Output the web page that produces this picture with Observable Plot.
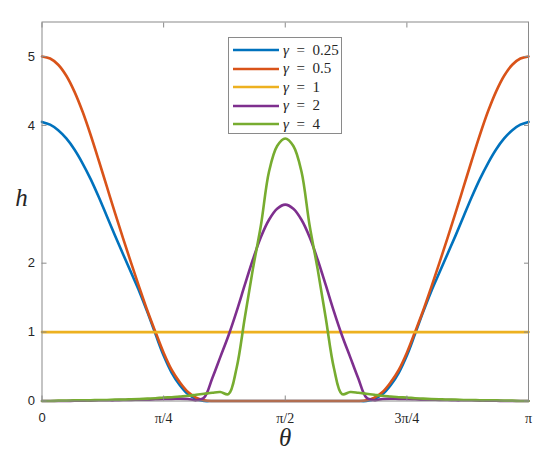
<!DOCTYPE html>
<html>
<head>
<meta charset="utf-8">
<script src="https://cdn.jsdelivr.net/npm/d3@7"></script>
<script src="https://cdn.jsdelivr.net/npm/@observablehq/plot@0.6"></script>
<style>
  html, body { margin: 0; padding: 0; background: #fff; }
  #wrap { position: relative; width: 550px; height: 460px; }
  #legend {
    position: absolute; left: 228px; top: 37px; width: 112px; height: 95px;
    border: 1px solid #8a8a8a; background: #fff; box-sizing: content-box;
    font-family: "Liberation Serif", "DejaVu Serif", serif; font-size: 15px; color: #262626;
  }
  #legend .row { position: absolute; left: 0; height: 18px; display: flex; align-items: center; }
  #legend svg { margin-left: 4px; margin-right: 4px; }
</style>
</head>
<body>
<div id="wrap"></div>
<script>
// theta positions: index k means theta = k * pi / 60
const thetaIndex = [0,1,2,3,4,5,6,7,8,9,10,11,12,13,14,15,16,17,18,19,20,21,22,23,24,25,26,27,28,29,30,
  31,32,33,34,35,36,37,38,39,40,41,42,43,44,45,46,47,48,49,50,51,52,53,54,55,56,57,58,59,60];

const seriesNames = ["γ = 0.25", "γ = 0.5", "γ = 1", "γ = 2", "γ = 4"];
const seriesColors = ["#0072BD", "#D95319", "#EDB120", "#7E2F8E", "#77AC30"];

const hGamma025 = [4.05,4.01,3.93,3.81,3.65,3.45,3.22,2.96,2.68,2.40,2.13,1.86,1.59,1.29,0.97,0.66,0.41,0.23,0.10,0.03,0.00,
  0,0,0,0,0,0,0,0,0,0,0,0,0,0,0,0,0,0,0,
  0.00,0.03,0.10,0.23,0.41,0.66,0.97,1.29,1.59,1.86,2.13,2.40,2.68,2.96,3.22,3.45,3.65,3.81,3.93,4.01,4.05];
const hGamma05 = [5.00,4.97,4.88,4.72,4.49,4.20,3.86,3.49,3.11,2.73,2.36,2.00,1.65,1.31,1.00,0.70,0.45,0.27,0.13,0.05,0.01,
  0,0,0,0,0,0,0,0,0,0,0,0,0,0,0,0,0,0,0,
  0.01,0.05,0.13,0.27,0.45,0.70,1.00,1.31,1.65,2.00,2.36,2.73,3.11,3.49,3.86,4.20,4.49,4.72,4.88,4.97,5.00];
const hGamma1 = [1,1,1,1,1,1,1,1,1,1,1,1,1,1,1,1,1,1,1,1,1,1,1,1,1,1,1,1,1,1,1,
  1,1,1,1,1,1,1,1,1,1,1,1,1,1,1,1,1,1,1,1,1,1,1,1,1,1,1,1,1,1];
const hGamma2 = [0,0,0,0,0.005,0.005,0.005,0.01,0.01,0.01,0.015,0.015,0.02,0.02,0.025,0.03,0.03,0.035,0.03,0.01,0.05,
  0.33,0.64,0.95,1.30,1.68,2.05,2.38,2.63,2.79,2.85,2.79,2.63,2.38,2.05,1.68,1.30,0.95,0.64,0.33,
  0.05,0.01,0.03,0.035,0.03,0.03,0.025,0.02,0.02,0.015,0.015,0.01,0.01,0.01,0.005,0.005,0.005,0,0,0,0];
const hGamma4 = [0,0,0.005,0.005,0.01,0.01,0.01,0.015,0.015,0.02,0.02,0.025,0.03,0.035,0.04,0.05,0.055,0.065,0.075,0.09,0.105,
  0.12,0.13,0.10,0.48,1.20,1.91,2.55,3.33,3.70,3.81,3.70,3.33,2.55,1.91,1.20,0.48,0.10,0.13,0.12,
  0.105,0.09,0.075,0.065,0.055,0.05,0.04,0.035,0.03,0.025,0.02,0.02,0.015,0.015,0.01,0.01,0.01,0.005,0.005,0,0];

const yTicks = [0, 1, 2, 4, 5];
const xTickValues = [0, Math.PI / 4, Math.PI / 2, 3 * Math.PI / 4, Math.PI];
const xTickLabels = ["0", "π/4", "π/2", "3π/4", "π"];

const allSeries = [hGamma025, hGamma05, hGamma1, hGamma2, hGamma4];
const rows = [];
allSeries.forEach((vals, s) => {
  thetaIndex.forEach((k, i) => rows.push({theta: k * Math.PI / 60, h: vals[i], series: seriesNames[s]}));
});

const labelFmt = d => xTickLabels[xTickValues.findIndex(v => Math.abs(v - d) < 1e-9)];
const axisGray = "#8a8a8a";
const serif = "Liberation Serif, DejaVu Serif, serif";

const chart = Plot.plot({
  width: 550,
  height: 460,
  marginLeft: 41.5,
  marginRight: 22,
  marginTop: 21.5,
  marginBottom: 59.5,
  x: {domain: [0, Math.PI]},
  y: {domain: [0, 5.5]},
  color: {domain: seriesNames, range: seriesColors},
  style: {fontFamily: "Liberation Sans, Arial, sans-serif", fontSize: "13px", color: "#262626", background: "white", overflow: "visible"},
  marks: [
    Plot.lineY(rows, {x: "theta", y: "h", z: "series", stroke: "series", strokeWidth: 2.6, curve: "catmull-rom"}),
    Plot.frame({stroke: axisGray, strokeWidth: 1}),
    // inward ticks on all four sides
    Plot.axisY({anchor: "left", ticks: yTicks, tickSize: 5, dx: 5, tickFormat: () => "", label: null, stroke: axisGray}),
    Plot.axisY({anchor: "right", ticks: yTicks, tickSize: 5, dx: -5, tickFormat: () => "", label: null, stroke: axisGray}),
    Plot.axisX({anchor: "bottom", ticks: xTickValues, tickSize: 5, dy: -5, tickFormat: () => "", label: null, stroke: axisGray}),
    Plot.axisX({anchor: "top", ticks: xTickValues, tickSize: 5, dy: 5, tickFormat: () => "", label: null, stroke: axisGray}),
    // tick labels
    Plot.axisY({anchor: "left", ticks: yTicks, tickSize: 0, tickPadding: 7, tickFormat: d3.format("d"), label: null, fill: "#262626"}),
    Plot.axisX({anchor: "bottom", ticks: [xTickValues[0]], tickSize: 0, tickPadding: 12, tickFormat: labelFmt, label: null, fill: "#262626"}),
    Plot.axisX({anchor: "bottom", ticks: xTickValues.slice(1), tickSize: 0, tickPadding: 12, tickFormat: labelFmt, label: null, fill: "#262626", fontFamily: serif, fontSize: 14}),
    // axis titles
    Plot.text(["h"], {text: d => d, frameAnchor: "left", textAnchor: "middle", lineAnchor: "middle", dx: -20.5, dy: -14, fontFamily: serif, fontStyle: "italic", fontSize: 25, fill: "#262626"}),
    Plot.text(["θ"], {text: d => d, frameAnchor: "bottom", textAnchor: "middle", lineAnchor: "middle", dy: 37, fontFamily: serif, fontStyle: "italic", fontSize: 25, fill: "#262626"})
  ]
});

const wrap = document.getElementById("wrap");
wrap.appendChild(chart);

// legend (inside the axes, upper centre)
const legend = document.createElement("div");
legend.id = "legend";
seriesNames.forEach((name, i) => {
  const row = document.createElement("div");
  row.className = "row";
  row.style.top = (3 + i * 18.5) + "px";
  const parts = name.split(" = ");
  row.innerHTML = `<svg width="46" height="6"><line x1="0" x2="46" y1="3" y2="3" stroke="${seriesColors[i]}" stroke-width="2.6"/></svg>` +
    `<span><i>${parts[0]}</i>\u2002=\u2002${parts[1]}</span>`;
  legend.appendChild(row);
});
wrap.appendChild(legend);
</script>
</body>
</html>
